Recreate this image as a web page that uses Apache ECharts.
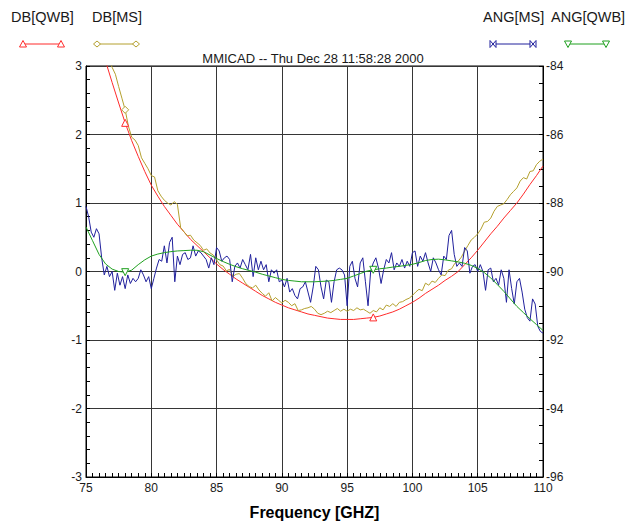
<!DOCTYPE html>
<html>
<head>
<meta charset="utf-8">
<title>MMICAD</title>
<script src="https://cdn.jsdelivr.net/npm/echarts@6/dist/echarts.min.js"></script>
<style>
  html, body { margin: 0; padding: 0; background: #fff; }
  #chart { width: 626px; height: 525px; }
</style>
</head>
<body>
<div id="chart"></div>
<script>
// Sweep grid: start frequency (GHz) and step for each trace
const FREQ_START = 75;
const STEP_QWB = 0.5;     // DB[QWB], ANG[QWB]
const STEP_DB_MS = 0.25;  // DB[MS]
const STEP_ANG_MS = 0.2;  // ANG[MS]

// Frequencies where each trace shows its symbol
const markersDbQWB = [78, 97];
const markersDbMS = [78];
const markersAngMS = [];
const markersAngQWB = [78, 97];

// Axis ticks
const xTicks = [75, 80, 85, 90, 95, 100, 105, 110];
const dbTicks = [-3, -2, -1, 0, 1, 2, 3];
const angTicks = [-96, -94, -92, -90, -88, -86, -84];

// DB[QWB] (dB), 75 .. 110 GHz every 0.5 GHz
const dbQWB = [
  4.1, 3.75, 3.41, 3.07, 2.76, 2.46, 2.17, 1.91, 1.68, 1.46,
  1.26, 1.1, 0.95, 0.82, 0.69, 0.58, 0.47, 0.38, 0.29, 0.2,
  0.11, 0.03, -0.04, -0.11, -0.17, -0.23, -0.29, -0.35, -0.4, -0.45,
  -0.49, -0.53, -0.56, -0.59, -0.62, -0.64, -0.66, -0.68, -0.69, -0.7,
  -0.7, -0.7, -0.69, -0.68, -0.67, -0.65, -0.62, -0.59, -0.55, -0.5,
  -0.45, -0.39, -0.32, -0.26, -0.2, -0.13, -0.07, 0.0, 0.1, 0.2,
  0.31, 0.43, 0.55, 0.66, 0.78, 0.89, 1.0, 1.13, 1.27, 1.4,
  1.54
];

// DB[MS] (dB), 75 .. 110 GHz every 0.25 GHz
const dbMS = [
  4.3, 4.1, 3.9, 3.7, 3.5, 3.38, 3.25, 3.1,
  2.98, 2.88, 2.70, 2.53, 2.36, 2.12, 1.96, 1.92,
  1.84, 1.66, 1.58, 1.50, 1.40, 1.38, 1.18, 1.10,
  1.04, 1.00, 0.97, 1.02, 0.98, 0.64, 0.58, 0.52,
  0.53, 0.46, 0.42, 0.38, 0.31, 0.33, 0.27, 0.24,
  0.17, 0.10, 0.08, 0.01, 0.03, -0.07, -0.04, -0.03,
  -0.10, -0.18, -0.22, -0.24, -0.20, -0.27, -0.32, -0.36,
  -0.31, -0.43, -0.38, -0.42, -0.46, -0.42, -0.45, -0.50,
  -0.47, -0.57, -0.56, -0.54, -0.53, -0.51, -0.55, -0.61,
  -0.63, -0.61, -0.58, -0.60, -0.57, -0.54, -0.58, -0.55,
  -0.58, -0.55, -0.57, -0.53, -0.56, -0.55, -0.58, -0.61,
  -0.57, -0.59, -0.53, -0.56, -0.49, -0.51, -0.47, -0.51,
  -0.45, -0.44, -0.41, -0.39, -0.35, -0.30, -0.26, -0.28,
  -0.17, -0.20, -0.14, -0.16, -0.10, -0.05, -0.06, 0.02,
  0.04, 0.12, 0.15, 0.21, 0.30, 0.38, 0.46, 0.50,
  0.55, 0.62, 0.72, 0.73, 0.78, 0.88, 0.95, 0.97,
  0.99, 1.05, 1.12, 1.17, 1.22, 1.32, 1.37, 1.35,
  1.46, 1.47, 1.56, 1.61, 1.64
];

// ANG[MS] (deg), 75 .. 110 GHz every 0.2 GHz
const angMS = [
  -88.1, -88.4, -88.85, -89.0, -88.75, -88.9, -89.6, -90.1, -89.85, -90.15,
  -90.0, -90.55, -90.05, -90.4, -90.15, -90.5, -90.1, -90.35, -90.2, -90.3,
  -90.2, -89.95, -90.1, -90.3, -90.15, -90.5, -90.2, -89.9, -89.65, -89.7,
  -89.25, -89.75, -89.15, -89.0, -90.3, -89.55, -89.8, -89.5, -89.45, -89.65,
  -89.6, -89.25, -89.55, -89.4, -89.45, -89.55, -89.65, -89.9, -89.6, -89.8,
  -89.3, -89.4, -89.7, -89.6, -89.55, -89.65, -90.3, -89.85, -89.75, -89.9,
  -89.65, -89.8, -89.95, -89.5, -90.15, -89.6, -89.95, -89.7, -89.95, -89.8,
  -90.3, -89.95, -90.05, -89.95, -90.3, -90.25, -90.45, -90.2, -90.6, -90.5,
  -90.7, -90.8, -90.5, -90.45, -90.3, -90.6, -90.9, -90.45, -89.85, -89.95,
  -90.45, -90.8, -90.25, -90.3, -90.9, -90.3, -89.95, -89.9, -89.95, -90.1,
  -91.0, -89.85, -89.7, -90.2, -90.45, -89.75, -89.6, -90.3, -91.0, -90.0,
  -89.75, -89.6, -89.9, -90.35, -89.95, -89.65, -89.75, -89.45, -89.95, -89.75,
  -89.85, -89.65, -89.9, -89.7, -89.85, -89.45, -89.4, -89.85, -89.55, -89.7,
  -89.45, -89.75, -90.0, -89.6, -89.75, -89.95, -90.1, -89.55, -89.65, -88.95,
  -88.8, -89.5, -89.85, -89.75, -89.85, -89.3, -89.4, -90.05, -89.85, -89.8,
  -90.0, -89.8, -90.0, -90.55, -89.95, -89.9, -90.3, -90.2, -90.4, -89.95,
  -90.2, -90.9, -89.95, -90.5, -90.95, -90.3, -90.2, -90.6, -91.1, -91.35,
  -91.45, -90.8, -90.95, -91.6, -91.75, -91.8
];

// ANG[QWB] (deg), 75 .. 110 GHz every 0.5 GHz
const angQWB = [
  -88.7, -89.1, -89.5, -89.78, -89.93, -90.0, -90.02, -89.96, -89.8, -89.66,
  -89.55, -89.49, -89.45, -89.42, -89.4, -89.39, -89.38, -89.38, -89.42, -89.52,
  -89.62, -89.71, -89.79, -89.86, -89.92, -89.97, -90.02, -90.08, -90.13, -90.18,
  -90.23, -90.26, -90.28, -90.3, -90.3, -90.3, -90.29, -90.28, -90.26, -90.23,
  -90.2, -90.13, -90.06, -89.99, -89.95, -89.92, -89.9, -89.87, -89.85, -89.82,
  -89.79, -89.74, -89.68, -89.65, -89.64, -89.66, -89.69, -89.72, -89.76, -89.82,
  -89.91, -90.03, -90.19, -90.38, -90.58, -90.8, -91.02, -91.2, -91.38, -91.55,
  -91.72
];

const C_RED = '#ff2b2b';
const C_OLIVE = '#b4a02e';
const C_BLUE = '#20209c';
const C_GREEN = '#1fa01f';

const SYM_BOWTIE = 'path://M0,0L5,5L0,10ZM10,0L5,5L10,10Z';
const SYM_DOWN = 'path://M0,0L10,0L5,9Z';

// Pair each value with its sweep frequency; put a hollow symbol at the marker frequencies
function trace(values, step, marks, symbol, color) {
  return values.map(function (v, i) {
    const f = Math.round((FREQ_START + i * step) * 1000) / 1000;
    if (marks.indexOf(f) >= 0) {
      return {
        value: [f, v],
        symbol: symbol,
        symbolSize: 7,
        itemStyle: { color: '#fff', borderColor: color, borderWidth: 1 }
      };
    }
    return { value: [f, v], symbol: 'none' };
  });
}

function lineSeries(name, values, step, yIndex, marks, symbol, color) {
  return {
    name: name,
    type: 'line',
    yAxisIndex: yIndex,
    data: trace(values, step, marks, symbol, color),
    showSymbol: true,
    showAllSymbol: true,
    symbol: 'none',
    smooth: false,
    clip: true,
    animation: false,
    lineStyle: { color: color, width: 1 },
    itemStyle: { color: color },
    emphasis: { disabled: true }
  };
}

// Legend: name on top, line sample with symbols underneath
function legendEntry(label, textX, x1, x2, color, shape) {
  const y = 44;
  const marks = [x1, x2].map(function (x) {
    let pts;
    if (shape === 'up') pts = [[x - 3.5, y + 3], [x + 3.5, y + 3], [x, y - 3.5]];
    else if (shape === 'diamond') pts = [[x - 3.5, y], [x, y - 3], [x + 3.5, y], [x, y + 3]];
    else if (shape === 'bowtie') pts = [[x - 3, y - 3.5], [x, y], [x + 3, y - 3.5], [x + 3, y + 3.5], [x, y], [x - 3, y + 3.5]];
    else pts = [[x - 3.5, y - 3], [x + 3.5, y - 3], [x, y + 3.5]];
    return {
      type: 'polygon', shape: { points: pts },
      style: { fill: '#fff', stroke: color, lineWidth: 1 }, z: 101
    };
  });
  return [
    {
      type: 'text', left: textX, top: 9,
      style: { text: label, fill: '#1a1a1a', font: '14.5px "Liberation Sans", Arial, sans-serif' }
    },
    {
      type: 'line', shape: { x1: x1, y1: y, x2: x2, y2: y },
      style: { stroke: color, lineWidth: 1 }, z: 100
    }
  ].concat(marks);
}

const FONT = '"Liberation Sans", Arial, sans-serif';
const gridColor = '#363636';

const chart = echarts.init(document.getElementById('chart'), null, { renderer: 'svg' });

chart.setOption({
  animation: false,
  backgroundColor: '#fff',
  textStyle: { fontFamily: FONT },
  title: {
    text: 'MMICAD -- Thu Dec 28 11:58:28 2000',
    left: 'center',
    top: 52,
    padding: 0,
    textStyle: { fontSize: 13, fontWeight: 'normal', color: '#1a1a1a', fontFamily: FONT }
  },
  grid: {
    left: 86, right: 83, top: 66, bottom: 45,
    show: true, borderColor: '#000', borderWidth: 1, backgroundColor: 'transparent'
  },
  xAxis: {
    type: 'value',
    min: xTicks[0], max: xTicks[xTicks.length - 1], interval: 5,
    name: 'Frequency [GHZ]',
    nameLocation: 'middle',
    nameGap: 27,
    nameTextStyle: { fontSize: 16, fontWeight: 'bold', color: '#000', fontFamily: FONT },
    axisLine: { show: true, onZero: false, lineStyle: { color: '#000', width: 1 } },
    axisTick: { show: true, inside: true, length: 4, lineStyle: { color: '#000' } },
    minorTick: { show: true, splitNumber: 10, length: 4, lineStyle: { color: '#000' } },
    axisLabel: { fontSize: 12, color: '#1a1a1a', margin: 5, fontFamily: FONT },
    splitLine: { show: true, lineStyle: { color: gridColor, width: 1 } }
  },
  yAxis: [
    {
      type: 'value',
      min: dbTicks[0], max: dbTicks[dbTicks.length - 1], interval: 1,
      position: 'left',
      axisLine: { show: true, onZero: false, lineStyle: { color: '#000', width: 1 } },
      axisTick: { show: true, inside: true, length: 4, lineStyle: { color: '#000' } },
      minorTick: { show: true, splitNumber: 5, length: 4, lineStyle: { color: '#000' } },
      axisLabel: { fontSize: 12, color: '#1a1a1a', margin: 4, fontFamily: FONT },
      splitLine: { show: true, lineStyle: { color: gridColor, width: 1 } }
    },
    {
      type: 'value',
      min: angTicks[0], max: angTicks[angTicks.length - 1], interval: 2,
      position: 'right',
      axisLine: { show: true, onZero: false, lineStyle: { color: '#000', width: 1 } },
      axisTick: { show: true, inside: true, length: 4, lineStyle: { color: '#000' } },
      minorTick: { show: true, splitNumber: 4, length: 4, lineStyle: { color: '#000' } },
      axisLabel: { fontSize: 12, color: '#1a1a1a', margin: 3, fontFamily: FONT },
      splitLine: { show: false }
    }
  ],
  graphic: [].concat(
    legendEntry('DB[QWB]', 11, 23, 61, C_RED, 'up'),
    legendEntry('DB[MS]', 92, 97, 136, C_OLIVE, 'diamond'),
    legendEntry('ANG[MS]', 483, 493, 533, C_BLUE, 'bowtie'),
    legendEntry('ANG[QWB]', 551, 568, 606, C_GREEN, 'down')
  ),
  series: [
    lineSeries('DB[QWB]', dbQWB, STEP_QWB, 0, markersDbQWB, 'triangle', C_RED),
    lineSeries('DB[MS]', dbMS, STEP_DB_MS, 0, markersDbMS, 'diamond', C_OLIVE),
    lineSeries('ANG[MS]', angMS, STEP_ANG_MS, 1, markersAngMS, SYM_BOWTIE, C_BLUE),
    lineSeries('ANG[QWB]', angQWB, STEP_QWB, 1, markersAngQWB, SYM_DOWN, C_GREEN)
  ]
});
</script>
</body>
</html>
